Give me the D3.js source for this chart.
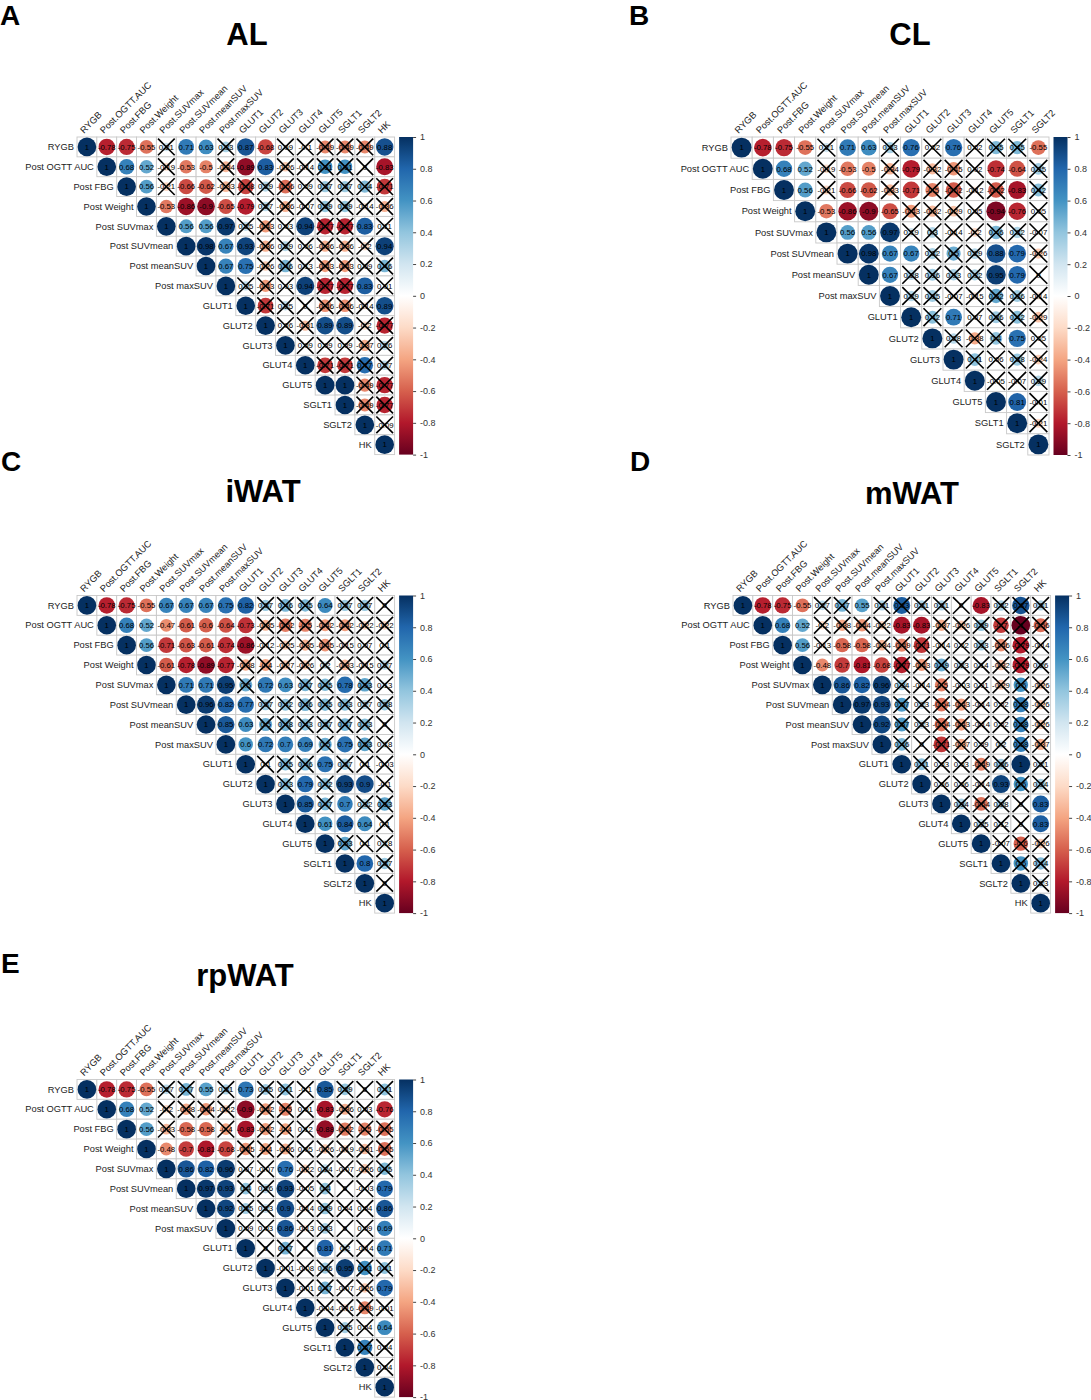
<!DOCTYPE html>
<html><head><meta charset="utf-8">
<script src="https://cdn.jsdelivr.net/npm/d3@7"></script>
<style>body{margin:0;background:#fff} svg text{font-family:"Liberation Sans",Arial,Helvetica,sans-serif}</style>
</head><body>
<svg id="chart" width="1091" height="1400"></svg>
<script>
// ---------------- DATA ----------------
const rowNames = ["RYGB","Post OGTT AUC","Post FBG","Post Weight","Post SUVmax","Post SUVmean","Post meanSUV","Post maxSUV","GLUT1","GLUT2","GLUT3","GLUT4","GLUT5","SGLT1","SGLT2","HK"];
const colNames = ["RYGB","Post.OGTT.AUC","Post.FBG","Post.Weight","Post.SUVmax","Post.SUVmean","Post.meanSUV","Post.maxSUV","GLUT1","GLUT2","GLUT3","GLUT4","GLUT5","SGLT1","SGLT2","HK"];
const panelLetters = ["A","B","C","D","E"];
const panelTitles = ["AL","CL","iWAT","mWAT","rpWAT"];
const legendTicks = [1,0.8,0.6,0.4,0.2,0,-0.2,-0.4,-0.6,-0.8,-1];
const paletteRdBu = ["#67001F","#B2182B","#D6604D","#F4A582","#FDDBC7","#FFFFFF","#D1E5F0","#92C5DE","#4393C3","#2166AC","#053061"];

// upper-triangle rows (each row starts at its diagonal)
const alValues = [
 [1,-0.78,-0.75,-0.55,0.21,0.71,0.63,0.33,0.87,-0.68,0.09,-0.1,-0.49,-0.49,-0.49,0.88],
 [1,0.68,0.52,-0.19,-0.53,-0.5,-0.34,-0.89,0.83,-0.26,-0.14,0.61,0.61,0,-0.83],
 [1,0.56,-0.21,-0.66,-0.62,-0.33,-0.68,0.29,-0.56,0.09,0.37,0.37,0.44,-0.71],
 [1,-0.53,-0.86,-0.9,-0.65,-0.79,0.27,-0.36,-0.07,0.39,0.39,-0.14,-0.36],
 [1,0.56,0.56,0.97,0.25,-0.43,0.03,0.94,-0.77,-0.77,0.83,0.11],
 [1,0.98,0.67,0.93,-0.36,0.29,0.06,-0.36,-0.36,-0.2,0.94],
 [1,0.67,0.75,-0.26,0.46,0.13,-0.43,-0.43,0.09,0.46],
 [1,0.25,-0.43,0.03,0.94,-0.77,-0.77,0.83,0.01],
 [1,-0.71,0.25,0,-0.46,-0.46,-0.14,0.89],
 [1,0.06,-0.31,0.89,0.89,-0.2,-0.77],
 [1,0.09,0.09,0.09,-0.37,0.26],
 [1,-0.71,-0.71,0.77,0.27],
 [1,1,-0.49,-0.77],
 [1,-0.49,-0.77],
 [1,-0.09],
 [1]
];
const alInsig = [
 [0,0,0,0,1,0,0,1,0,0,1,1,1,1,1,0],
 [0,0,0,1,0,0,1,0,0,1,1,1,1,1,0],
 [0,0,1,0,0,1,1,1,1,1,1,1,1,1],
 [0,0,0,0,0,0,1,1,1,1,1,1,1],
 [0,0,0,0,1,1,1,0,1,1,0,1],
 [0,0,0,0,1,1,1,1,1,1,0],
 [0,0,0,1,1,1,1,1,1,1],
 [0,1,1,1,0,1,1,0,1],
 [0,1,1,1,1,1,1,0],
 [0,1,1,0,0,1,1],
 [0,1,1,1,1,1],
 [0,1,1,1,1],
 [0,0,1,1],
 [0,1,1],
 [0,1],
 [0]
];

const clValues = [
 [1,-0.78,-0.75,-0.55,0.21,0.71,0.63,0.33,0.76,0.02,0.76,0.02,0.45,0.45,-0.55],
 [1,0.68,0.52,-0.19,-0.53,-0.5,-0.34,-0.79,-0.32,-0.45,0.02,-0.74,-0.64,0.35],
 [1,0.56,-0.21,-0.66,-0.62,-0.33,-0.71,-0.5,-0.62,-0.12,-0.62,-0.83,0.42],
 [1,-0.53,-0.86,-0.9,-0.65,-0.43,-0.32,-0.29,0.05,-0.94,-0.76,0.05],
 [1,0.56,0.56,0.97,0.19,0.3,-0.14,-0.2,0.46,0.32,-0.07],
 [1,0.98,0.67,0.67,0.32,0.5,0.29,0.88,0.79,-0.26],
 [1,0.67,0.28,0.36,0.33,0.32,0.95,0.79,0],
 [1,0.29,0.35,-0.07,-0.15,0.52,0.36,-0.14],
 [1,0.42,0.71,0.07,0.36,0.42,-0.29],
 [1,0.28,-0.38,0.4,0.75,0.05],
 [1,0.41,0.06,0.38,-0.24],
 [1,-0.05,-0.07,0.29],
 [1,0.81,-0.01],
 [1,-0.21],
 [1]
];
const clInsig = [
 [0,0,0,0,1,0,0,1,0,1,0,1,1,1,0],
 [0,0,0,1,0,0,1,0,1,1,1,0,0,1],
 [0,0,1,0,0,1,0,1,1,1,1,0,1],
 [0,0,0,0,0,1,1,1,1,0,0,1],
 [0,0,0,0,1,1,1,1,1,1,1],
 [0,0,0,0,1,1,1,0,0,1],
 [0,0,1,1,1,1,0,0,1],
 [0,1,1,1,1,1,1,1],
 [0,1,0,1,1,1,1],
 [0,1,1,1,0,1],
 [0,1,1,1,1],
 [0,1,1,1],
 [0,0,1],
 [0,1],
 [0]
];

const iwatValues = [
 [1,-0.78,-0.75,-0.55,0.67,0.67,0.67,0.75,0.82,0.37,0.46,0.45,0.64,0.37,0.37,0],
 [1,0.68,0.52,-0.47,-0.61,-0.6,-0.64,-0.73,-0.35,-0.52,-0.5,-0.42,-0.42,-0.22,-0.22],
 [1,0.56,-0.71,-0.63,-0.61,-0.74,-0.86,-0.12,-0.25,-0.35,-0.45,-0.15,0.07,0.1],
 [1,-0.61,-0.78,-0.89,-0.77,-0.38,-0.4,-0.27,-0.26,0.2,-0.33,-0.15,0.27],
 [1,0.71,0.71,0.95,0.5,0.72,0.63,0.47,0.45,0.78,0.53,0.13],
 [1,0.96,0.82,0.77,0.37,0.42,0.46,0.45,0.43,0.27,0.38],
 [1,0.85,0.63,0.5,0.48,0.43,0.37,0.47,0.43,0],
 [1,0.6,0.72,0.7,0.69,0.5,0.75,0.53,0.18],
 [1,0.1,0.45,0.46,0.75,0.37,0.1,-0.03],
 [1,0.43,0.79,0.42,0.93,0.9,-0.1],
 [1,0.85,0.47,0.7,0.32,0.53],
 [1,0.61,0.84,0.64,0.1],
 [1,0.53,0.1,0.18],
 [1,0.8,0.37],
 [1,0],
 [1]
];
const iwatInsig = [
 [0,0,0,0,0,0,0,0,0,1,1,1,0,1,1,1],
 [0,0,0,0,0,0,0,0,1,1,1,1,1,1,1],
 [0,0,0,0,0,0,0,1,1,1,1,1,1,1],
 [0,0,0,0,0,1,1,1,1,1,1,1,1],
 [0,0,0,0,1,0,0,1,1,0,1,1],
 [0,0,0,0,1,1,1,1,1,1,1],
 [0,0,0,1,1,1,1,1,1,1],
 [0,0,0,0,0,1,0,1,1],
 [0,1,1,1,0,1,1,1],
 [0,1,0,1,0,0,1],
 [0,0,1,0,1,1],
 [0,0,0,0,1],
 [0,1,1,1],
 [0,0,1],
 [0,1],
 [0]
];

const mwatValues = [
 [1,-0.78,-0.75,-0.55,0.27,0.47,0.55,0.31,0.83,0.31,0.31,0,-0.83,0.32,0.87,0.31],
 [1,0.68,0.52,-0.2,-0.38,-0.44,-0.22,-0.83,-0.83,-0.37,-0.26,0.39,-0.7,-1,-0.56],
 [1,0.56,-0.13,-0.58,-0.58,-0.34,-0.49,-0.71,-0.14,0.02,0.33,-0.46,-0.79,-0.14],
 [1,-0.48,-0.7,-0.81,-0.68,-0.77,-0.43,0.49,0.23,0.14,-0.32,-0.79,0.26],
 [1,0.86,0.82,0.96,0.34,-0.14,-0.5,-0.03,0.01,-0.29,0.6,-0.26],
 [1,0.97,0.93,0.57,0.23,-0.54,-0.43,-0.14,0.02,0.68,-0.26],
 [1,0.92,0.57,0.23,-0.54,-0.43,-0.14,0.02,0.68,-0.26],
 [1,0.46,0,-0.71,-0.37,0.09,0.2,0.68,-0.37],
 [1,0.41,0.03,0.03,-0.49,0.36,1,0.21],
 [1,0.06,0.06,-0.14,0.93,0.6,0.34],
 [1,0.34,-0.54,0.28,0,0.83],
 [1,0.25,0.12,0,0.83],
 [1,-0.07,-0.6,-0.26],
 [1,0.6,0.44],
 [1,0.23],
 [1]
];
const mwatInsig = [
 [0,0,0,0,1,1,0,1,1,1,1,1,0,1,1,1],
 [0,0,0,1,1,1,1,0,0,1,1,1,1,1,1],
 [0,0,1,0,0,1,1,1,1,1,1,1,1,1],
 [0,0,0,0,0,1,1,1,1,1,1,1,1],
 [0,0,0,0,1,1,1,1,1,1,1,1],
 [0,0,0,1,1,1,1,1,1,1,1],
 [0,0,1,1,1,1,1,1,1,1],
 [0,1,1,1,1,1,1,1,1],
 [0,1,1,1,1,1,0,1],
 [0,1,1,1,0,1,1],
 [0,1,1,1,1,0],
 [0,1,1,1,0],
 [0,1,1,1],
 [0,1,1],
 [0,1],
 [0]
];

const rpwatValues = [
 [1,-0.78,-0.75,-0.55,0.27,0.47,0.55,0.31,0.73,0.35,0.41,-0.1,0.85,0.39,0,0.41],
 [1,0.68,0.52,-0.2,-0.38,-0.44,-0.22,-0.9,-0.42,-0.5,0.01,-0.83,-0.36,0.03,-0.76],
 [1,0.56,-0.33,-0.58,-0.58,-0.4,-0.83,-0.42,-0.4,0.12,-0.88,-0.52,-0.5,-0.55],
 [1,-0.48,-0.7,-0.81,-0.68,-0.45,-0.4,-0.36,0.05,-0.26,-0.19,-0.31,-0.55],
 [1,0.86,0.82,0.96,0.07,-0.07,0.76,-0.22,0.24,-0.07,-0.26,0.45],
 [1,0.97,0.93,0.4,0.26,0.93,-0.05,0.4,0,-0.03,0.79],
 [1,0.92,0.35,0.23,0.9,-0.14,0.39,0.04,0.04,0.86],
 [1,0.09,0.03,0.86,-0.13,0.33,0,0.09,0.69],
 [1,0,0.47,0,0.81,0.2,-0.14,0.71],
 [1,-0.01,-0.08,0.36,0.95,0.61,0.41],
 [1,-0.01,0.47,-0.07,-0.26,0.79],
 [1,-0.04,-0.16,-0.49,-0.01],
 [1,0.35,0.04,0.64],
 [1,0.67,0.04],
 [1,0.04],
 [1]
];
const rpwatInsig = [
 [0,0,0,0,1,1,0,1,0,1,1,1,0,1,1,1],
 [0,0,0,1,1,1,1,0,1,1,1,0,1,1,0],
 [0,0,1,0,0,1,0,1,1,1,0,1,1,1],
 [0,0,0,0,0,1,1,1,1,1,1,1,1],
 [0,0,0,0,1,1,0,1,1,1,1,1],
 [0,0,0,1,1,0,1,1,1,1,0],
 [0,0,1,1,0,1,1,1,1,0],
 [0,1,1,0,1,1,1,1,0],
 [0,1,1,1,0,1,1,0],
 [0,1,1,1,0,1,1],
 [0,1,1,1,1,0],
 [0,1,1,1,1],
 [0,1,1,0],
 [0,1,1],
 [0,1],
 [0]
];

// ---------------- DRAWING ----------------
const svg = d3.select("#chart");
const color = d3.scaleLinear().domain(d3.range(11).map(i => -1 + i * 0.2)).range(paletteRdBu).interpolate(d3.interpolateRgb).clamp(true);
const fmt = v => String(+(+v).toFixed(2));

// gradient for legend
const defs = svg.append("defs");
const grad = defs.append("linearGradient").attr("id","rdbu").attr("x1",0).attr("y1",1).attr("x2",0).attr("y2",0);
paletteRdBu.forEach((c,i) => grad.append("stop").attr("offset", (i/10*100)+"%").attr("stop-color", c));

const panels = [
  {values: alValues, insig: alInsig, n: 16, x0: 77, y0: 137, cell: 19.85, letter:[0,25], title:[247,45]},
  {values: clValues, insig: clInsig, n: 15, x0: 731, y0: 137, cell: 21.2, letter:[629,25], title:[910,45]},
  {values: iwatValues, insig: iwatInsig, n: 16, x0: 77, y0: 595.5, cell: 19.85, letter:[1,471], title:[263,502]},
  {values: mwatValues, insig: mwatInsig, n: 16, x0: 733, y0: 595.5, cell: 19.85, letter:[630,471], title:[912,504]},
  {values: rpwatValues, insig: rpwatInsig, n: 16, x0: 77, y0: 1079.5, cell: 19.85, letter:[1,973], title:[245,986]}
];

panels.forEach((p, pi) => {
  const g = svg.append("g");
  const idx = d3.range(p.n);
  const x = d3.scaleBand().domain(idx).range([p.x0, p.x0 + p.n * p.cell]);
  const y = d3.scaleBand().domain(idx).range([p.y0, p.y0 + p.n * p.cell]);
  const rad = d3.scaleSqrt().domain([0,1]).range([0, 0.47 * p.cell]);
  const cell = x.bandwidth();

  // letter and title
  g.append("text").attr("x", p.letter[0]).attr("y", p.letter[1]).attr("font-size", 28).attr("font-weight", "bold").attr("fill","#000").text(panelLetters[pi]);
  g.append("text").attr("x", p.title[0]).attr("y", p.title[1]).attr("text-anchor","middle").attr("font-size", 31).attr("font-weight", "bold").attr("fill","#000").text(panelTitles[pi]);

  const cells = [];
  p.values.forEach((row, i) => row.forEach((v, k) => cells.push({i, j: i + k, v, s: p.insig[i][k]})));

  // grid
  g.selectAll("rect.cell").data(cells).join("rect").attr("class","cell")
    .attr("x", d => x(d.j)).attr("y", d => y(d.i)).attr("width", cell).attr("height", cell)
    .attr("fill","#fff").attr("stroke","#c8c8c8").attr("stroke-width",0.9);

  // circles
  g.selectAll("circle").data(cells).join("circle")
    .attr("cx", d => x(d.j) + cell/2).attr("cy", d => y(d.i) + cell/2)
    .attr("r", d => rad(Math.abs(d.v))).attr("fill", d => color(d.v));

  // coefficients
  g.selectAll("text.coef").data(cells).join("text").attr("class","coef")
    .attr("x", d => x(d.j) + cell/2).attr("y", d => y(d.i) + cell/2 + 2.8)
    .attr("text-anchor","middle").attr("font-size", 7.8).attr("fill","#000")
    .text(d => fmt(d.v));

  // insignificant crosses
  const h = cell * 0.42;
  const cross = g.selectAll("g.cross").data(cells.filter(d => d.s)).join("g").attr("class","cross")
    .attr("transform", d => `translate(${x(d.j) + cell/2},${y(d.i) + cell/2})`);
  cross.append("line").attr("x1",-h).attr("y1",-h).attr("x2",h).attr("y2",h).attr("stroke","#000").attr("stroke-width",1.6);
  cross.append("line").attr("x1",-h).attr("y1",h).attr("x2",h).attr("y2",-h).attr("stroke","#000").attr("stroke-width",1.6);

  // row labels
  g.selectAll("text.rl").data(idx).join("text").attr("class","rl")
    .attr("x", i => x(i) - 3).attr("y", i => y(i) + cell/2 + 3.2)
    .attr("text-anchor","end").attr("font-size", 9.3).attr("fill","#222")
    .text(i => rowNames[i]);

  // column labels
  g.selectAll("text.cl").data(idx).join("text").attr("class","cl")
    .attr("transform", i => `translate(${x(i) + cell/2 - 3},${p.y0 - 3}) rotate(-45)`)
    .attr("font-size", 9.3).attr("fill","#222")
    .text(i => colNames[i]);

  // color legend
  const lx = p.x0 + p.n * p.cell + 4.5;
  const ly = d3.scaleLinear().domain([-1,1]).range([p.y0 + p.n * p.cell, p.y0]);
  g.append("rect").attr("x", lx).attr("y", p.y0).attr("width", 14).attr("height", p.n * p.cell).attr("fill","url(#rdbu)");
  const ax = g.append("g").attr("transform", `translate(${lx + 14},0)`)
    .call(d3.axisRight(ly).tickValues(legendTicks).tickSize(3).tickPadding(4).tickFormat(fmt));
  ax.select(".domain").remove();
  ax.selectAll("line").attr("stroke","#444");
  ax.selectAll("text").attr("font-size", 9).attr("fill","#333").attr("font-family","Liberation Sans, Arial, sans-serif");
});
</script>
</body></html>
